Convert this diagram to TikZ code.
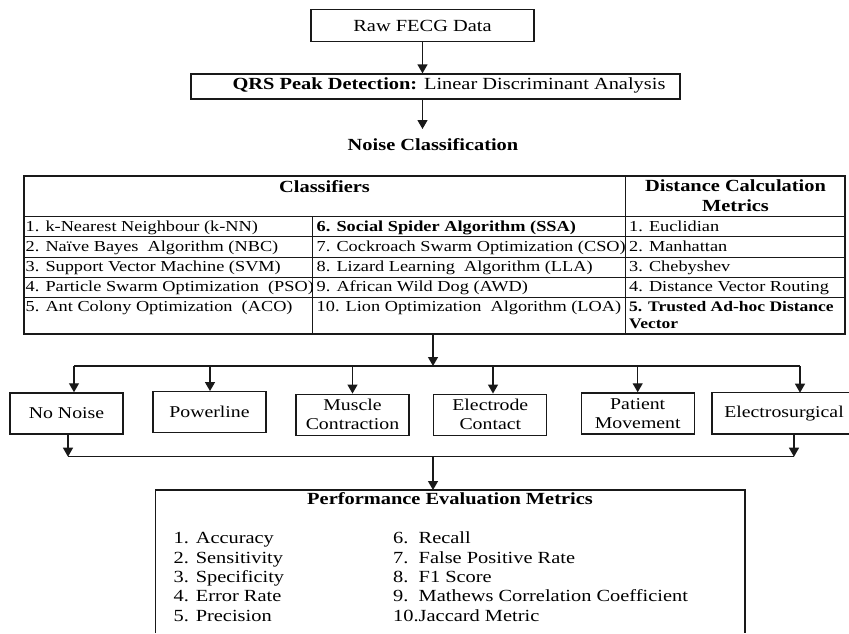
\documentclass[tikz,border=0pt]{standalone}
\usepackage{fontspec}
\setmainfont{Liberation Serif}[FakeStretch=1.2]
\usetikzlibrary{arrows.meta}
\newcommand\myfBig{\fontsize{17}{20}\selectfont}
\newcommand\myfMid{\fontsize{16.5}{19}\selectfont}
\newcommand\myfCell{\fontsize{15.25}{18}\selectfont}
\newcommand\myfCellS{\fontsize{14.6}{17}\selectfont}
\begin{document}
\begin{tikzpicture}[x=1pt,y=-1pt,
  ln/.style={draw=black!90, line width=1.3pt},
  tl/.style={draw=black!90, line width=1pt},
  arr/.style={ln, -{Triangle[width=10pt,length=9pt]}},
  box/.style={ln, inner sep=0pt, align=center, minimum width=113pt, minimum height=41pt, font=\myfMid},
  txt/.style={inner sep=0pt, align=center},
  cell/.style={anchor=base west, inner sep=0pt, font=\myfCell},
  hd/.style={inner sep=0pt, align=center, font=\myfBig\bfseries},
  item/.style={anchor=base west, inner sep=0pt, font=\myfBig},
]
\useasboundingbox (0,0) rectangle (849,633);

% ---- top part
\node[box, minimum width=223pt, minimum height=32pt, font=\myfBig] (raw) at (422.5,25.5) {Raw FECG Data};
\node[box, minimum width=489pt, minimum height=25pt] (qrs) at (435.5,86.5) {};
\node[txt, font=\myfBig] (qrsT) at (449,85.5) {\textbf{QRS Peak Detection:} Linear Discriminant Analysis};
\draw[arr] (raw.south) -- (raw.south |- qrs.north);
\node[txt, anchor=base, font=\myfBig\bfseries] (nc) at (433,150.7) {Noise Classification};
\coordinate (ncTop) at (422.5,129);
\draw[arr] (raw.south |- qrs.south) -- (ncTop);

% ---- table
\draw[ln] (24,176) rectangle (845,334);
\draw[tl] (625.7,176) -- (625.7,334);
\draw[tl] (312.7,216.7) -- (312.7,334);
\foreach \yy in {216.7,236.6,257,277,297} \draw[tl] (24,\yy) -- (845,\yy);

\node[hd, anchor=base] (hCls) at (324.5,192.7) {Classifiers};
\node[hd] (hDist) at (735.5,195.4) {Distance Calculation\\Metrics};

\node[cell] (c1) at (25.5,231.7) {1. k-Nearest Neighbour (k-NN)};
\node[cell] (c2) at (25.5,251.7) {2. Naïve Bayes\ \ Algorithm (NBC)};
\node[cell] (c3) at (25.5,271.6) {3. Support Vector Machine (SVM)};
\node[cell] (c4) at (25.5,291.6) {4. Particle Swarm Optimization\ \ (PSO)};
\node[cell] (c5) at (25.5,311.6) {5. Ant Colony Optimization\ \ (ACO)};

\node[cell, font=\myfCell\bfseries] (c6) at (316.5,231.7) {6. Social Spider Algorithm (SSA)};
\node[cell] (c7) at (316.5,251.7) {7. Cockroach Swarm Optimization\ (CSO)};
\node[cell] (c8) at (316.5,271.6) {8. Lizard Learning\ \ Algorithm (LLA)};
\node[cell] (c9) at (316.5,291.6) {9. African Wild Dog (AWD)};
\node[cell] (c10) at (316.5,311.6) {10. Lion Optimization\ \ Algorithm (LOA)};

\node[cell] (m1) at (629,231.7) {1. Euclidian};
\node[cell] (m2) at (629,251.7) {2. Manhattan};
\node[cell] (m3) at (629,271.6) {3. Chebyshev};
\node[cell] (m4) at (629,291.6) {4. Distance Vector Routing};
\node[cell, font=\myfCellS\bfseries] (m5) at (629,311.6) {5. Trusted Ad-hoc Distance};
\node[cell, font=\myfCellS\bfseries] (m5b) at (629,328.5) {Vector};

% ---- bus to noise types
\coordinate (tb) at (433,334);
\coordinate (b0) at (433,366);
\draw[arr] (tb) -- (b0);
\coordinate (bL) at (74,366);
\coordinate (bR) at (800,366);
\draw[ln] (bL) -- (bR);

\node[box] (nn) at (66.5,413.4) {No Noise};
\node[box] (pl) at (209.5,412.2) {Powerline};
\node[box] (mc) at (352.5,414.7) {Muscle\\Contraction};
\node[box] (ec) at (490.3,414.7) {Electrode\\Contact};
\node[box] (pm) at (637.7,413.4) {Patient\\Movement};
\node[txt, font=\myfMid] (es) at (784,413.4) {Electrosurgical};
\draw[ln] (849,392.7) -- (712,392.7) -- (712,434) -- (849,434);
\coordinate (esTop) at (800,392.7);
\coordinate (esBot) at (794,434);

\coordinate (b1) at (210,366);
\coordinate (b2) at (352.5,366);
\coordinate (b3) at (493,366);
\coordinate (b4) at (637.7,366);
\draw[arr] (bL) -- (bL |- nn.north);
\draw[arr] (b1) -- (b1 |- pl.north);
\draw[arr] (b2) -- (b2 |- mc.north);
\draw[arr] (b3) -- (b3 |- ec.north);
\draw[arr] (b4) -- (b4 |- pm.north);
\draw[arr] (bR) -- (esTop);

% ---- bottom bus
\coordinate (cL) at (68,456.7);
\coordinate (cR) at (794,456.7);
\coordinate (c0) at (433,456.7);
\draw[arr] (cL |- nn.south) -- (cL);
\draw[arr] (esBot) -- (cR);
\draw[ln] (cL) -- (cR);
\coordinate (pTop) at (433,490);
\draw[arr] (c0) -- (pTop);

% ---- performance box
\draw[ln] (155.7,633) -- (155.7,490) -- (745,490) -- (745,633);
\node[txt, anchor=base, font=\myfBig\bfseries] (pt) at (450,504) {Performance Evaluation Metrics};
\node[item] (p1) at (173.5,543.7) {1. Accuracy};
\node[item] (p2) at (173.5,563) {2. Sensitivity};
\node[item] (p3) at (173.5,582.5) {3. Specificity};
\node[item] (p4) at (173.5,601.7) {4. Error Rate};
\node[item] (p5) at (173.5,621) {5. Precision};
\node[item] (p6) at (393,543.7) {6.~~Recall};
\node[item] (p7) at (393,563) {7.~~False Positive Rate};
\node[item] (p8) at (393,582.5) {8.~~F1 Score};
\node[item] (p9) at (393,601.7) {9.~~Mathews Correlation Coefficient};
\node[item] (p10) at (393,621) {10.Jaccard Metric};
\end{tikzpicture}
\end{document}
